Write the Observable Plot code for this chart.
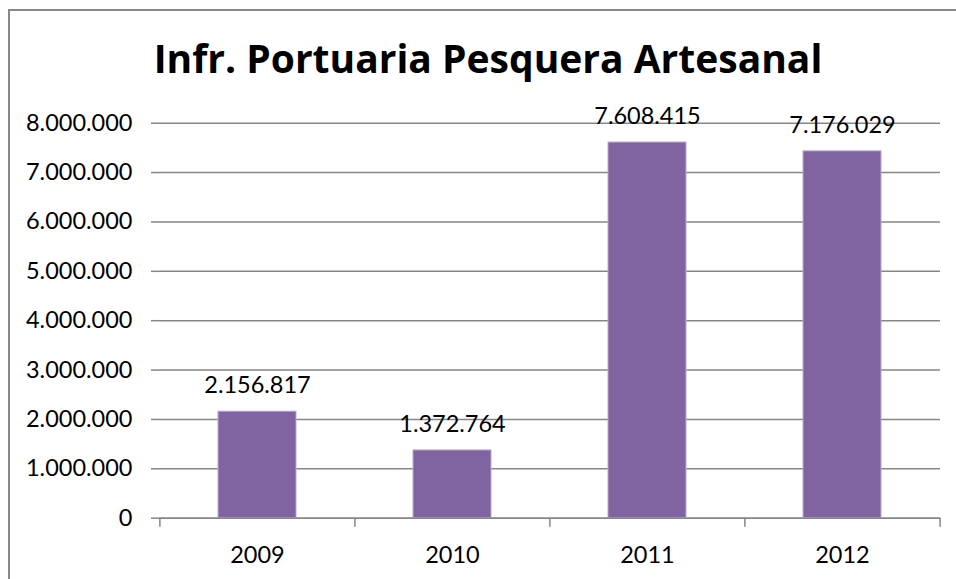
<!DOCTYPE html>
<html>
<head>
<meta charset="utf-8">
<script src="https://cdn.jsdelivr.net/npm/d3@7"></script>
<script src="https://cdn.jsdelivr.net/npm/@observablehq/plot@0.6"></script>
<style>
  html, body { margin: 0; padding: 0; background: #fff; }
  #wrap { position: relative; width: 956px; height: 579px; overflow: hidden; background: #fff; font-family: Lato, "Open Sans", sans-serif; }
  #box { position: absolute; left: 8px; top: 9px; width: 1000px; height: 700px; border-top: 2px solid #888; border-left: 2px solid #888; box-sizing: border-box; }
  #title { position: absolute; left: 88px; width: 800px; top: 38px; text-align: center; font-family: "Open Sans", Lato, sans-serif; font-size: 39px; line-height: 39px; font-weight: 700; color: #000; white-space: nowrap; }
  #plot { position: absolute; left: 0; top: 0; }
</style>
</head>
<body>
<div id="wrap">
  <div id="box"></div>
  <div id="title">Infr. Portuaria Pesquera Artesanal</div>
  <div id="plot"></div>
</div>
<script>
const years = ["2009", "2010", "2011", "2012"];
const barValues = [2156817, 1372764, 7608415, 7430000];
const valueLabels = ["2.156.817", "1.372.764", "7.608.415", "7.176.029"];
const yTicks = [0, 1000000, 2000000, 3000000, 4000000, 5000000, 6000000, 7000000, 8000000];

const data = years.map((y, i) => ({year: y, value: barValues[i], label: valueLabels[i]}));

const W = 956, H = 579;
const mL = 159, mR = 16, mT = 122.7, mB = 61.3;
const step = (W - mL - mR) / years.length;
const fmt = d => d === 0 ? "0" : d3.format(",")(d).replace(/,/g, ".");
const gray = "#868686";

const chart = Plot.plot({
  width: W,
  height: H,
  marginLeft: mL,
  marginRight: mR,
  marginTop: mT,
  marginBottom: mB,
  style: {fontFamily: "Lato, 'Open Sans', sans-serif", fontSize: "23.5px", color: "#000", background: "transparent"},
  x: {type: "band", domain: years, paddingInner: 0.6, paddingOuter: 0.3, axis: null},
  y: {domain: [0, 8000000], axis: null},
  marks: [
    Plot.gridY(yTicks, {stroke: gray, strokeOpacity: 1, strokeWidth: 1.5}),
    Plot.axisY({ticks: yTicks, tickFormat: fmt, tickSize: 8, tickPadding: 19, stroke: gray, strokeWidth: 1.5, fill: "#000", label: null, line: true}),
    Plot.barY(data, {x: "year", y: "value", fill: "#8064A2", stroke: "#b9a9cf", strokeWidth: 1}),
    Plot.ruleY([0], {stroke: gray, strokeWidth: 1.5}),
    Plot.axisX({ticks: years, tickFormat: () => "", tickSize: 9, dx: -step / 2, stroke: gray, strokeWidth: 1.5, label: null}),
    Plot.axisX({ticks: years.slice(-1), tickFormat: () => "", tickSize: 9, dx: step / 2, stroke: gray, strokeWidth: 1.5, label: null}),
    Plot.axisX({ticks: years, tickSize: 0, tickPadding: 28.5, fill: "#000", label: null}),
    Plot.text(data, {x: "year", y: "value", text: "label", lineAnchor: "bottom", dy: -18.5, fill: "#000", fontSize: 23.5})
  ]
});
document.getElementById("plot").appendChild(chart);
</script>
</body>
</html>
